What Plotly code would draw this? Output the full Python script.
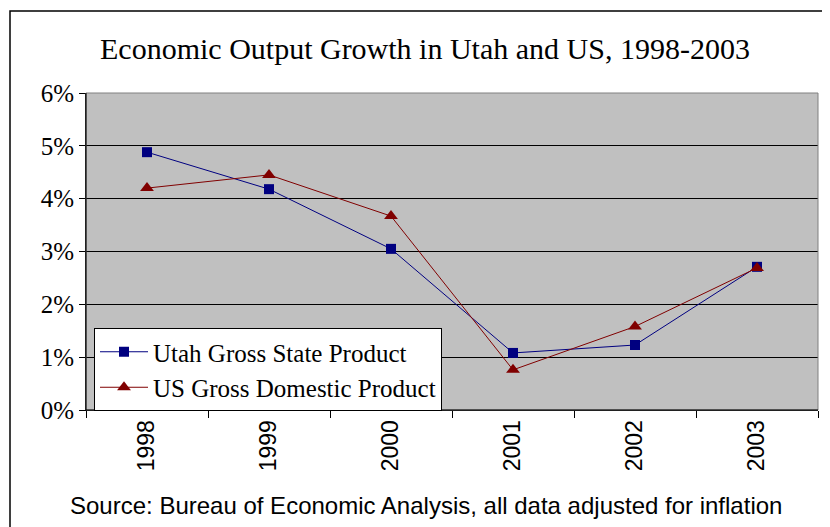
import plotly.graph_objects as go

years = ["1998", "1999", "2000", "2001", "2002", "2003"]
utah_gsp = [4.88, 4.18, 3.05, 1.08, 1.23, 2.71]
us_gdp = [4.20, 4.45, 3.67, 0.76, 1.58, 2.69]
y_ticks = [0, 1, 2, 3, 4, 5, 6]
y_labels = [f"{v}%" for v in y_ticks]

# page body has an 8px margin; figure coordinates = screen coordinates - 8
OFF = 8
W, H = 830, 527
L, R, T, B = 86 - OFF, 20, 93 - OFF, 125
pw, ph = W - L - R, H - T - B

def px2x(px):
    return (px - OFF - L) / pw

def px2y(py):
    return (H - B - (py - OFF)) / ph

fig = go.Figure()
fig.add_trace(go.Scatter(
    x=years, y=utah_gsp, mode="lines+markers", name="Utah Gross State Product",
    line=dict(color="#000080", width=1),
    marker=dict(symbol="square", size=10, color="#000080"),
))
fig.add_trace(go.Scatter(
    x=years, y=us_gdp, mode="lines+markers", name="US Gross Domestic Product",
    line=dict(color="#800000", width=1),
    marker=dict(symbol="triangle-up", size=12, color="#800000"),
))

fig.update_layout(
    width=W, height=H,
    margin=dict(l=L, r=R, t=T, b=B, pad=0),
    paper_bgcolor="white",
    plot_bgcolor="#C0C0C0",
    showlegend=True,
    legend=dict(
        x=px2x(94), y=px2y(328), xanchor="left", yanchor="top",
        bgcolor="white", bordercolor="black", borderwidth=1,
        font=dict(family="Liberation Serif", size=25, color="black"),
        tracegroupgap=0, itemwidth=48,
    ),
    xaxis=dict(
        type="category", tickson="boundaries", ticks="outside", ticklen=7,
        tickcolor="black", showline=True, linecolor="black", linewidth=1,
        showgrid=False, tickangle=-90,
        tickfont=dict(family="Liberation Sans", size=23, color="black"),
        range=[-0.5, 5.5], fixedrange=True,
    ),
    yaxis=dict(
        range=[0, 6], tickvals=y_ticks, ticktext=y_labels,
        ticks="outside", ticklen=6, tickcolor="black",
        showline=True, linecolor="black", linewidth=1,
        showgrid=True, gridcolor="black", gridwidth=1, zeroline=False,
        tickfont=dict(family="Liberation Serif", size=25, color="black"),
        fixedrange=True,
    ),
    shapes=[
        dict(type="rect", xref="paper", yref="paper", x0=0, x1=1, y0=0, y1=1,
             line=dict(color="#808080", width=1), layer="above"),
        dict(type="line", xref="paper", yref="paper", x0=0, x1=1, y0=0, y1=0,
             line=dict(color="black", width=1), layer="above"),
        dict(type="line", xref="paper", yref="paper", x0=0, x1=0, y0=0, y1=1,
             line=dict(color="black", width=1), layer="above"),
        dict(type="rect", xref="paper", yref="paper",
             x0=px2x(10), x1=px2x(845), y0=px2y(545), y1=px2y(11),
             line=dict(color="black", width=1.5)),
    ],
    annotations=[
        dict(text="Economic Output Growth in Utah and US, 1998-2003",
             xref="paper", yref="paper", x=px2x(425), y=px2y(49),
             xanchor="center", yanchor="middle", showarrow=False,
             font=dict(family="Liberation Serif", size=30, color="black")),
        dict(text="Source: Bureau of Economic Analysis, all data adjusted for inflation",
             xref="paper", yref="paper", x=px2x(426), y=px2y(506),
             xanchor="center", yanchor="middle", showarrow=False,
             font=dict(family="Liberation Sans", size=24, color="black")),
    ],
)

fig.write_html("out.html")
